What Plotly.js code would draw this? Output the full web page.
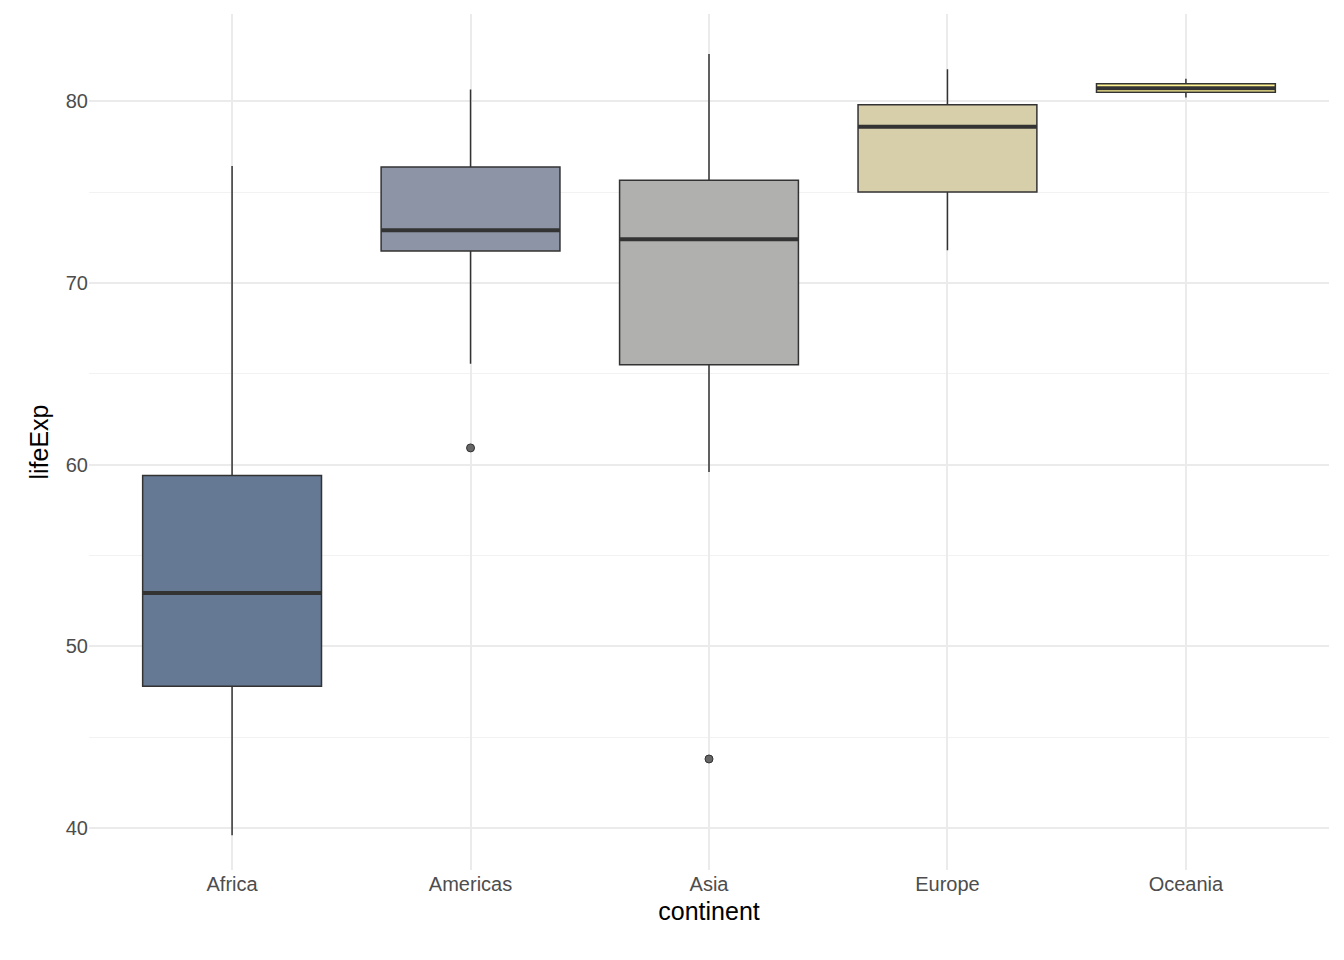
<!DOCTYPE html>
<html>
<head>
<meta charset="utf-8">
<script src="https://cdn.plot.ly/plotly-3.0.1.min.js"></script>
<style>body{margin:0}#chart{width:1344px;height:960px}</style>
</head>
<body>
<div id="chart"></div>
<script>
var continents = ["Africa", "Americas", "Asia", "Europe", "Oceania"];
var lowerWhisker = [39.6, 65.55, 59.6, 71.8, 80.2];
var q1 = [47.8, 71.75, 65.5, 75.0, 80.5];
var median = [52.93, 72.9, 72.4, 78.6, 80.72];
var q3 = [59.4, 76.38, 75.65, 79.8, 80.96];
var upperWhisker = [76.44, 80.65, 82.6, 81.76, 81.24];
var outlierCont = [1, 2];
var outlierVal = [60.92, 43.8];
var fills = ["#667994", "#8d94a6", "#b0b0ae", "#d7cfa9", "#fff290"];

var data = [];
continents.forEach(function (c, i) {
    data.push({
        type: 'box', x: [i], q1: [q1[i]], median: [median[i]], q3: [q3[i]],
        lowerfence: [lowerWhisker[i]], upperfence: [upperWhisker[i]],
        width: 0.75, whiskerwidth: 0, fillcolor: fills[i],
        line: {color: '#333333', width: 1.5}, hoverinfo: 'y', showlegend: false
    });
    data.push({
        type: 'scatter', mode: 'lines', x: [i - 0.375, i + 0.375], y: [median[i], median[i]],
        line: {color: '#333333', width: 4}, hoverinfo: 'skip', showlegend: false
    });
});
data.push({
    type: 'scatter', mode: 'markers', x: outlierCont, y: outlierVal,
    marker: {color: '#666666', size: 8, line: {color: '#333333', width: 1}}, showlegend: false
});

var layout = {
    paper_bgcolor: 'white', plot_bgcolor: 'white',
    margin: {l: 89, r: 15, t: 14, b: 90},
    font: {family: 'Arial, Liberation Sans, sans-serif'},
    xaxis: {
        range: [-0.6, 4.6], tickvals: [0, 1, 2, 3, 4], ticktext: continents,
        gridcolor: '#ebebeb', gridwidth: 1.5, zeroline: false, ticks: '',
        tickfont: {size: 20, color: '#4d4d4d'},
        title: {text: 'continent', font: {size: 25, color: 'black'}, standoff: 8}
    },
    yaxis: {
        range: [37.69, 84.8], tickvals: [40, 50, 60, 70, 80],
        gridcolor: '#ebebeb', gridwidth: 1.5, zeroline: false, ticks: '',
        tickfont: {size: 20, color: '#4d4d4d'},
        minor: {tickvals: [45, 55, 65, 75], showgrid: true, gridcolor: '#f2f2f2', gridwidth: 1},
        title: {text: 'lifeExp', font: {size: 25, color: 'black'}, standoff: 10}
    }
};
Plotly.newPlot('chart', data, layout, {displayModeBar: false});
</script>
</body>
</html>
